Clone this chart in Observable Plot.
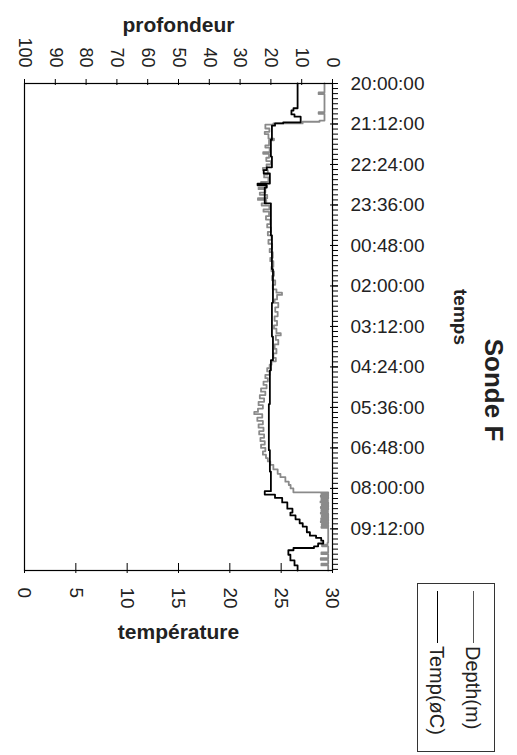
<!DOCTYPE html>
<html><head><meta charset="utf-8">
<script src="https://cdn.jsdelivr.net/npm/d3@7"></script>
<script src="https://cdn.jsdelivr.net/npm/@observablehq/plot@0.6"></script>
<style>
body{margin:0;background:#fff;font-family:"Liberation Sans",Arial,sans-serif;}
#wrap{position:relative;width:517px;height:755px;}
#legend{position:absolute;left:417px;top:583px;width:78px;height:169px;box-sizing:border-box;border:1px solid #333;background:#fff;}
.ln{position:absolute;top:7px;width:0;height:52px;border-left:1.5px solid #000;}
.lt{position:absolute;top:62px;writing-mode:vertical-rl;font-size:20px;line-height:22px;width:22px;color:#222;white-space:nowrap;}
</style></head>
<body>
<div id="wrap">
  <div id="legend">
    <div class="ln" style="left:55px;border-color:#555"></div>
    <div class="lt" style="left:44px">Depth(m)</div>
    <div class="ln" style="left:19px"></div>
    <div class="lt" style="left:8px">Temp(øC)</div>
  </div>
</div>
<script>
// ---- data ----
const timeLabels = ["20:00:00","21:12:00","22:24:00","23:36:00","00:48:00","02:00:00","03:12:00","04:24:00","05:36:00","06:48:00","08:00:00","09:12:00"];
const depthTicks = [100,90,80,70,60,50,40,30,20,10,0];
const tempTicks = [0,5,10,15,20,25,30];

const depthSeries = [
["20:00",2.6],["20:16",4.5],["20:19",2.6],["20:51",4.5],["20:54",2.6],["21:06",4.2],["21:08",9.7],["21:11",19.2],["21:13",21.8],
["21:20",20.5],["21:26",22.0],["21:30",20.8],["21:38",19.0],["21:41",20.6],["21:50",21.8],["21:54",20.4],["22:02",22.5],["22:05",20.6],
["22:12",21.5],["22:18",20.0],["22:24",21.4],["22:30",22.6],["22:34",21.0],["22:42",22.2],["22:47",20.8],["22:55",23.2],["22:58",21.6],
["23:05",24.0],["23:08",21.8],["23:14",23.6],["23:18",21.2],["23:24",24.2],["23:27",21.5],["23:33",23.0],["23:37",20.5],["23:44",22.4],
["23:48",20.6],["23:56",21.6],["00:02",20.2],["00:10",21.2],["00:16",20.0],["00:24",21.0],["00:30",19.8],["00:38",20.8],["00:45",19.6],
["00:54",20.4],["01:00",19.4],["01:10",20.2],["01:16",19.2],["01:26",19.8],["01:34",19.0],["01:42",19.6],["01:50",18.6],["01:58",19.4],
["02:06",18.2],["02:12",16.4],["02:16",18.0],["02:24",18.8],["02:30",17.6],["02:38",18.6],["02:46",17.8],["02:54",18.8],["03:02",18.0],
["03:10",19.0],["03:16",18.2],["03:24",16.8],["03:28",18.4],["03:36",17.6],["03:44",18.8],["03:52",18.2],["04:00",19.2],["04:08",18.4],
["04:14",19.8],["04:20",20.4],["04:26",21.2],["04:32",20.4],["04:38",21.8],["04:44",21.0],["04:50",22.4],["04:56",21.4],["05:02",23.2],
["05:08",21.8],["05:14",23.6],["05:20",22.2],["05:26",24.0],["05:32",22.6],["05:38",24.2],["05:44",25.4],["05:48",22.8],["05:54",24.4],
["06:00",22.6],["06:06",24.0],["06:12",22.4],["06:18",23.8],["06:24",22.2],["06:30",23.4],["06:36",22.0],["06:42",23.2],["06:48",21.8],
["06:54",22.6],["07:00",21.6],["07:06",21.0],["07:12",20.2],["07:18",19.2],["07:26",17.8],["07:34",16.9],["07:40",15.3],["07:48",14.2],
["07:54",13.6],["08:00",12.7],["08:07",1.4],
["08:09",3.6],["08:11",1.4],["08:13",3.8],["08:15",1.4],["08:18",3.6],["08:20",1.5],["08:23",3.9],["08:25",1.4],["08:28",3.5],["08:30",1.4],
["08:33",3.8],["08:35",1.4],["08:38",3.6],["08:40",1.5],["08:43",3.8],["08:45",1.4],["08:48",3.5],["08:50",1.4],["08:53",3.7],["08:55",1.4],
["08:58",3.8],["09:00",1.4],["09:03",3.5],["09:05",1.4],["09:08",3.6],["09:10",1.4],
["09:36",1.6],["09:40",3.4],["09:43",1.4],["09:54",3.6],["09:57",1.4],["10:04",3.8],["10:07",1.4],["10:14",3.6],["10:17",1.4],["10:26",1.4]
];

const tempSeries = [
["20:00",26.6],["20:44",26.2],["20:48",26.0],["20:55",26.3],["20:59",26.9],["21:09",25.2],["21:11",24.4],["21:15",24.1],["21:40",24.0],
["22:10",24.1],["22:29",23.6],["22:34",23.3],["22:40",23.9],["22:58",22.7],["23:01",23.6],["23:05",23.4],["23:33",24.0],["00:30",24.1],
["01:30",24.2],["02:30",24.1],["03:30",24.2],["04:12",24.0],["04:30",23.9],["05:30",23.8],["06:52",23.9],["07:30",24.0],["08:05",23.4],
["08:11",24.4],["08:17",25.1],["08:25",25.6],["08:36",26.1],["08:43",25.9],["08:48",26.4],["08:55",26.8],["09:02",27.1],["09:08",27.5],
["09:18",27.8],["09:24",28.4],["09:28",28.9],["09:33",29.1],["09:38",28.6],["09:43",28.2],["09:46",26.2],["09:50",25.7],["09:58",25.9],
["10:08",26.3],["10:17",26.6],["10:26",26.6]
];

// ---- helpers ----
function toMin(s){ const p = s.split(":").map(Number); let t = p[0]*60 + p[1] - 1200; if (t < 0) t += 1440; return t; }
const depthData = depthSeries.map(([t,v]) => ({t: toMin(t), v}));
const tempData = tempSeries.map(([t,v]) => ({t: toMin(t), v}));
const timeTickMins = timeLabels.map(toMin);
const endMin = 866;
const minorTicks = d3.range(0, endMin, 9);
const depthToX = d => 30 - d * 0.3; // depth 100→0 shares the 0→30 temperature axis

const W = 517, H = 755, mL = 24, mR = 185, mT = 83, mB = 185;
const plotW = W - mL - mR, plotH = H - mT - mB;

const chart = Plot.plot({
  width: W, height: H,
  marginLeft: mL, marginRight: mR, marginTop: mT, marginBottom: mB,
  style: {fontFamily: '"Liberation Sans", Arial, sans-serif', fontSize: "18px", color: "#222", background: "#fff"},
  x: {domain: [0, 30], axis: null},
  y: {domain: [0, endMin], reverse: true, axis: null},
  marks: [
    Plot.line(depthData, {x: d => depthToX(d.v), y: "t", curve: "step-before", stroke: "#8a8a8a", strokeWidth: 1.8}),
    Plot.line(tempData, {x: "v", y: "t", curve: "step-before", stroke: "#000", strokeWidth: 1.8}),
    Plot.frame({stroke: "#000", strokeWidth: 1.2}),
    Plot.tickX(depthTicks, {x: d => depthToX(d), insetTop: -4, insetBottom: plotH - 2, stroke: "#000"}),
    Plot.text(depthTicks, {x: d => depthToX(d), text: d => String(d), frameAnchor: "top", dy: -16, rotate: 90, textAnchor: "end", lineAnchor: "middle", fontSize: 18}),
    Plot.tickX(tempTicks, {x: d => d, insetTop: plotH - 7, insetBottom: -3, stroke: "#000"}),
    Plot.text(tempTicks, {x: d => d, text: d => String(d), frameAnchor: "bottom", dy: 17, rotate: 90, textAnchor: "start", lineAnchor: "middle", fontSize: 19}),
    Plot.tickY(minorTicks, {y: d => d, insetLeft: plotW, insetRight: -6, stroke: "#000"}),
    Plot.tickY(timeTickMins, {y: d => d, insetLeft: plotW - 2, insetRight: -6, stroke: "#000"}),
    Plot.text(timeTickMins, {y: d => d, text: timeLabels, frameAnchor: "right", dx: 18, textAnchor: "start", lineAnchor: "middle", fontSize: 19}),
    Plot.text(["profondeur"], {text: d => d, frameAnchor: "top", dy: -58, textAnchor: "middle", fontWeight: "bold", fontSize: 21, lineAnchor: "middle"}),
    Plot.text(["température"], {text: d => d, frameAnchor: "bottom", dy: 62, textAnchor: "middle", fontWeight: "bold", fontSize: 21, lineAnchor: "middle"}),
    Plot.text(["temps"], {text: d => d, frameAnchor: "right", dx: 128, dy: -10, rotate: 90, textAnchor: "middle", fontWeight: "bold", fontSize: 19, lineAnchor: "middle"}),
    Plot.text(["Sonde F"], {text: d => d, frameAnchor: "right", dx: 161, dy: 63, rotate: 90, textAnchor: "middle", fontWeight: "bold", fontSize: 26, lineAnchor: "middle"})
  ]
});
const wrap = document.getElementById("wrap");
wrap.insertBefore(chart, wrap.firstChild);
</script>
</body></html>
